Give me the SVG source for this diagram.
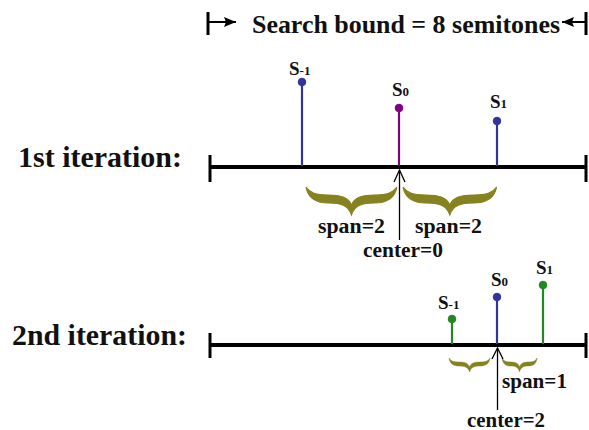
<svg xmlns="http://www.w3.org/2000/svg" width="589" height="430" viewBox="0 0 589 430">
<style>
text{font-family:"Liberation Serif","Times New Roman",serif;font-weight:bold;fill:#111}
.axis{stroke:#000;stroke-width:4}
.tick{stroke:#000;stroke-width:3}
.stem{stroke-width:2.2}
.blue{stroke:#333399;fill:#333399}
.purple{stroke:#800080;fill:#800080}
.green{stroke:#228822;fill:#228822}
.brace{fill:#86821f;stroke:#86821f;stroke-width:1}
.ptr{stroke:#000;stroke-width:1.3;fill:none}
.lab{font-size:19px}
.sub{font-size:13px}
</style>
<defs>
<path id="br" d="M0,0 C2,12 10,16 22,16 C34,16 42,18 45,28 C48,18 56,16 68,16 C80,16 88,12 90,0 C86,6 80,8 68,8 C56,8 48,10 45,18 C42,10 34,8 22,8 C10,8 4,6 0,0 Z"/>
<marker id="ah" viewBox="0 0 12 10" refX="12" refY="5" markerWidth="12" markerHeight="10" markerUnits="userSpaceOnUse" orient="auto"><path d="M0,0 L12,5 L0,10 L2,5 Z" fill="#000"/></marker>
</defs>

<g id="bound">
<line x1="208" y1="12" x2="208" y2="35" class="tick" stroke-width="2"/>
<line x1="208" y1="22" x2="236" y2="22" stroke="#000" stroke-width="2" marker-end="url(#ah)"/>
<line x1="586" y1="12" x2="586" y2="35" class="tick" stroke-width="2"/>
<line x1="586" y1="22" x2="562" y2="22" stroke="#000" stroke-width="2" marker-end="url(#ah)"/>
<text x="252" y="33" font-size="26" textLength="308" lengthAdjust="spacingAndGlyphs">Search bound = 8 semitones</text>
</g>

<g id="iter1">
<text x="18" y="167" font-size="29" textLength="164" lengthAdjust="spacingAndGlyphs">1st iteration:</text>
<line x1="210" y1="167" x2="586" y2="167" class="axis"/>
<line x1="210" y1="155" x2="210" y2="182" class="tick"/>
<line x1="586" y1="155" x2="586" y2="182" class="tick"/>
</g>

<g id="s1m">
<line x1="302" y1="82" x2="302" y2="166" class="stem blue"/>
<circle cx="302" cy="82" r="3.8" class="blue"/>
<text x="289" y="75" class="lab">S<tspan class="sub" dy="0">-1</tspan></text>
</g>
<g id="s1z">
<line x1="399" y1="108" x2="399" y2="166" class="stem purple"/>
<circle cx="399" cy="108" r="3.8" class="purple"/>
<text x="392" y="96" class="lab">S<tspan class="sub" dy="0">0</tspan></text>
</g>
<g id="s1p">
<line x1="497" y1="121" x2="497" y2="166" class="stem blue"/>
<circle cx="497" cy="121" r="3.8" class="blue"/>
<text x="490" y="108" class="lab">S<tspan class="sub" dy="0">1</tspan></text>
</g>

<g id="span1">
<use href="#br" class="brace" transform="translate(306,187) scale(1.01,1)"/>
<use href="#br" class="brace" transform="translate(403,187) scale(1.04,1)"/>
<text x="318" y="233" font-size="20" textLength="67" lengthAdjust="spacingAndGlyphs">span=2</text>
<text x="415" y="233" font-size="20" textLength="67" lengthAdjust="spacingAndGlyphs">span=2</text>
<text x="363" y="257" font-size="20" textLength="80" lengthAdjust="spacingAndGlyphs">center=0</text>
</g>

<g id="iter2">
<text x="12" y="345" font-size="29" textLength="175" lengthAdjust="spacingAndGlyphs">2nd iteration:</text>
<line x1="210" y1="345" x2="586" y2="345" class="axis"/>
<line x1="210" y1="333" x2="210" y2="358" class="tick"/>
<line x1="586" y1="333" x2="586" y2="358" class="tick"/>
</g>

<g id="s2m">
<line x1="452" y1="319" x2="452" y2="344" class="stem green"/>
<circle cx="452" cy="319" r="3.8" class="green"/>
<text x="438" y="309" class="lab">S<tspan class="sub" dy="0">-1</tspan></text>
</g>
<g id="s2z">
<line x1="497" y1="297" x2="497" y2="344" class="stem blue"/>
<circle cx="497" cy="297" r="3.8" class="blue"/>
<text x="491" y="286" class="lab">S<tspan class="sub" dy="0">0</tspan></text>
</g>
<g id="s2p">
<line x1="543" y1="285" x2="543" y2="344" class="stem green"/>
<circle cx="543" cy="285" r="3.8" class="green"/>
<text x="536" y="274" class="lab">S<tspan class="sub" dy="0">1</tspan></text>
</g>

<g id="span2">
<use href="#br" class="brace" transform="translate(449,358) scale(0.456,0.5)"/>
<use href="#br" class="brace" transform="translate(502,358) scale(0.39,0.5)"/>
<text x="502" y="388" font-size="20" textLength="65" lengthAdjust="spacingAndGlyphs">span=1</text>
<text x="467" y="427" font-size="20" textLength="78" lengthAdjust="spacingAndGlyphs">center=2</text>
</g>

<g id="connectors">
<line x1="399.5" y1="170" x2="399.5" y2="240" class="ptr"/>
<polyline points="394,182 399.5,170 405,182" class="ptr"/>
<line x1="497.5" y1="348" x2="497.5" y2="410" class="ptr"/>
<polyline points="492,359 497.5,348 503,359" class="ptr"/>
</g>
</svg>
